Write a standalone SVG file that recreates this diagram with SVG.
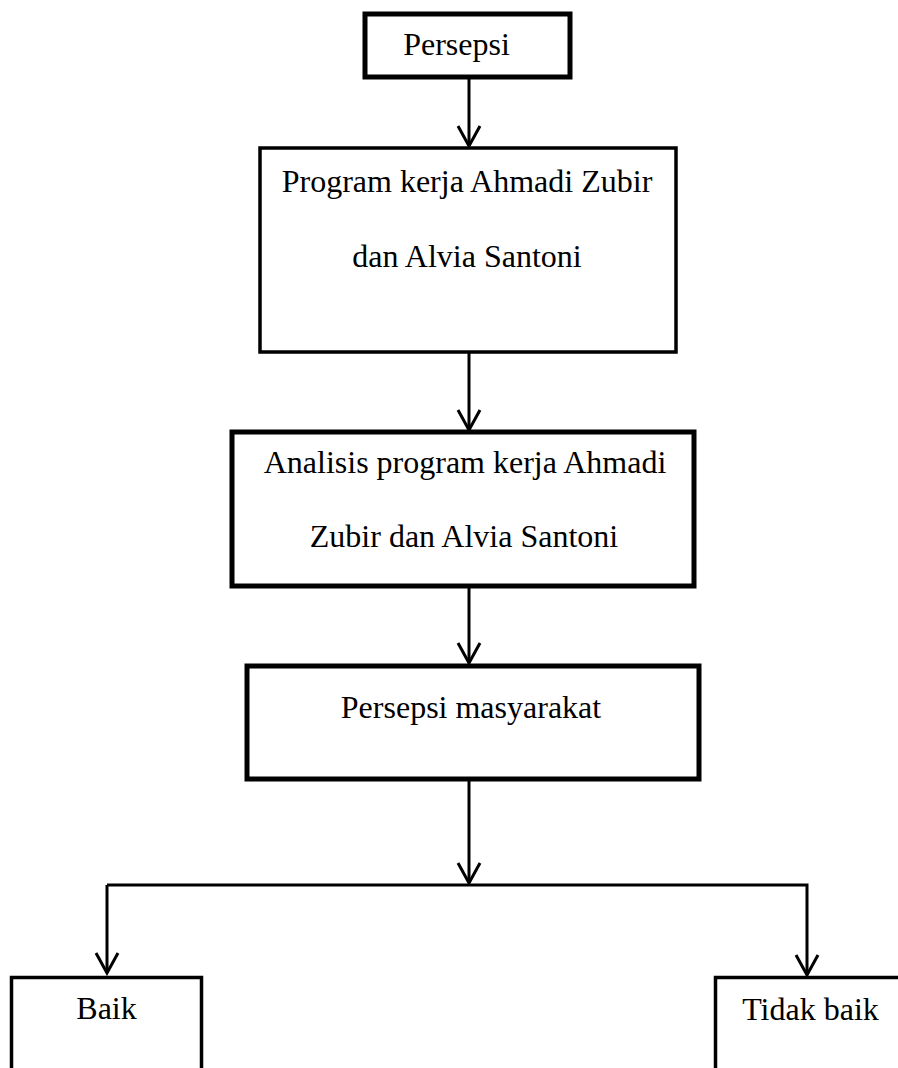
<svg xmlns="http://www.w3.org/2000/svg" width="898" height="1068" viewBox="0 0 898 1068">
<style>
.box{fill:#fff;stroke:#000;stroke-linejoin:miter}
.t{font-family:"Liberation Serif","Times New Roman",serif;font-size:32px;fill:#000;text-anchor:middle}
.c{fill:none;stroke:#000;stroke-width:3}
</style>
<defs>
<marker id="ah" viewBox="-2 -14 25 28" markerWidth="25" markerHeight="28" refX="20" refY="0" orient="auto" markerUnits="userSpaceOnUse">
<path d="M0,-11 L20,0 L0,11" fill="none" stroke="#000" stroke-width="3"/>
</marker>
</defs>
<rect width="898" height="1068" fill="#fff"/>
<g id="connectors">
<line class="c" x1="469" y1="78" x2="469" y2="146" marker-end="url(#ah)"/>
<line class="c" x1="469" y1="352" x2="469" y2="430" marker-end="url(#ah)"/>
<line class="c" x1="469" y1="587" x2="469" y2="663" marker-end="url(#ah)"/>
<line class="c" x1="469" y1="780" x2="469" y2="883" marker-end="url(#ah)"/>
<polyline class="c" points="107,885 807,885 807,975" marker-end="url(#ah)"/>
<line class="c" x1="107" y1="885" x2="107" y2="973" marker-end="url(#ah)"/>
</g>
<g id="n1">
<rect class="box" x="365" y="14" width="205" height="63" stroke-width="5"/>
<text class="t" x="456.5" y="55">Persepsi</text>
</g>
<g id="n2">
<rect class="box" x="260" y="148" width="416" height="204" stroke-width="3.5"/>
<text class="t" x="467" y="192">Program kerja Ahmadi Zubir</text>
<text class="t" x="467" y="267">dan Alvia Santoni</text>
</g>
<g id="n3">
<rect class="box" x="232" y="432" width="462" height="154" stroke-width="5"/>
<text class="t" x="465" y="473">Analisis program kerja Ahmadi</text>
<text class="t" x="464" y="547">Zubir dan Alvia Santoni</text>
</g>
<g id="n4">
<rect class="box" x="247" y="666" width="452" height="113" stroke-width="5"/>
<text class="t" x="471" y="718">Persepsi masyarakat</text>
</g>
<g id="n5">
<rect class="box" x="11.5" y="977.5" width="190" height="120" stroke-width="3.5"/>
<text class="t" x="106.5" y="1019">Baik</text>
</g>
<g id="n6">
<rect class="box" x="715.5" y="977.5" width="220" height="120" stroke-width="3.5"/>
<text class="t" x="810.5" y="1020">Tidak baik</text>
</g>
</svg>
